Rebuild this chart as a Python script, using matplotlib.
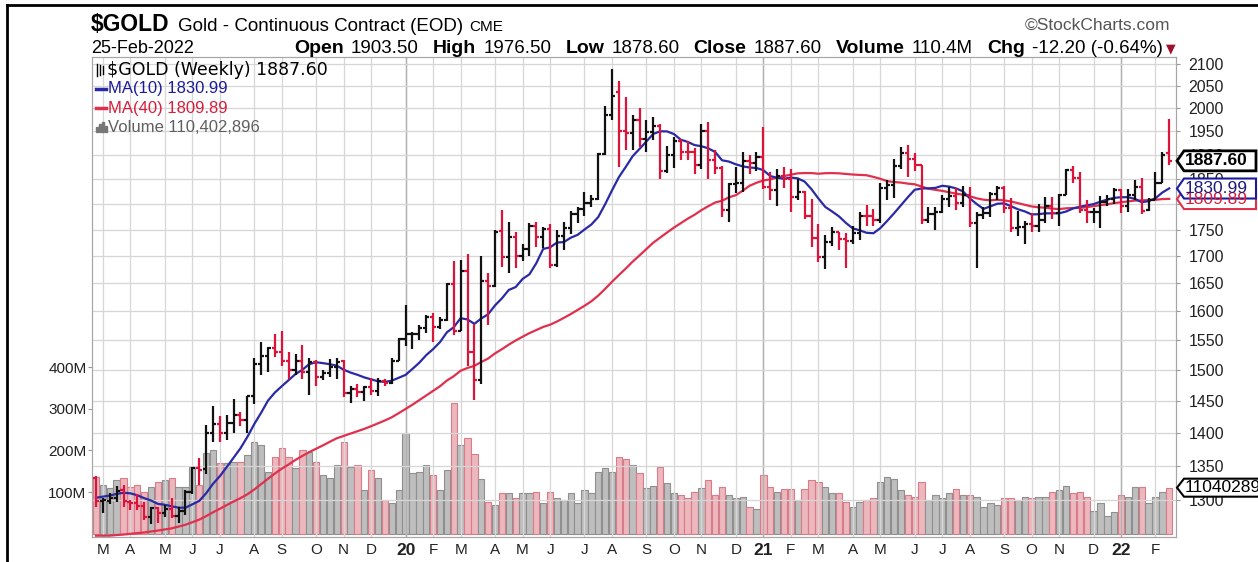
import numpy as np
import pandas as pd
import matplotlib
matplotlib.use("Agg")
import matplotlib.pyplot as plt
import matplotlib.ticker as mticker
from matplotlib.collections import LineCollection
from matplotlib.patches import Polygon, Rectangle
from matplotlib.lines import Line2D

plt.rcParams['font.family'] = ['Liberation Sans', 'DejaVu Sans']

W, H = 1258, 562

# weekly bars (Friday dates)
weeks = pd.date_range("2019-03-01", periods=157, freq="W-FRI")

opens = [1331, 1299, 1299, 1302, 1314, 1297, 1295, 1291, 1276, 1288,
         1281, 1287, 1277, 1284, 1311, 1346, 1345, 1400, 1413, 1400,
         1415, 1427, 1419, 1457, 1509, 1523, 1537, 1529, 1515, 1499,
         1515, 1497, 1513, 1488, 1494, 1505, 1514, 1462, 1468, 1463,
         1472, 1465, 1481, 1478, 1515, 1552, 1560, 1561, 1571, 1590,
         1573, 1584, 1649, 1566, 1672, 1530, 1484, 1654, 1645, 1748,
         1698, 1735, 1700, 1713, 1757, 1735, 1751, 1683, 1737, 1753,
         1781, 1790, 1802, 1810, 1902, 1986, 2035, 1951, 1947, 1975,
         1934, 1948, 1962, 1866, 1900, 1930, 1907, 1905, 1879, 1951,
         1889, 1872, 1788, 1840, 1843, 1888, 1883, 1895, 1835, 1829,
         1856, 1850, 1813, 1824, 1777, 1734, 1698, 1727, 1745, 1733,
         1729, 1744, 1777, 1776, 1768, 1832, 1838, 1876, 1903, 1892,
         1879, 1769, 1781, 1784, 1811, 1816, 1802, 1817, 1763, 1779,
         1782, 1819, 1833, 1792, 1754, 1756, 1760, 1757, 1768, 1796,
         1783, 1818, 1868, 1852, 1788, 1784, 1785, 1805, 1811, 1828,
         1797, 1818, 1835, 1788, 1808, 1842, 1903.5]

highs = [1334, 1302, 1310, 1320, 1322, 1300, 1308, 1297, 1290, 1290,
         1293, 1303, 1290, 1314, 1348, 1362, 1412, 1442, 1425, 1427,
         1453, 1432, 1458, 1519, 1546, 1538, 1560, 1566, 1530, 1527,
         1542, 1519, 1517, 1500, 1518, 1520, 1516, 1474, 1476, 1474,
         1486, 1486, 1485, 1519, 1553, 1611, 1563, 1575, 1594, 1597,
         1590, 1650, 1691, 1692, 1704, 1578, 1700, 1669, 1750, 1788,
         1765, 1745, 1722, 1762, 1765, 1756, 1760, 1750, 1764, 1786,
         1795, 1823, 1817, 1904, 2005, 2089, 2060, 2024, 1986, 2001,
         1975, 1980, 1965, 1918, 1937, 1933, 1930, 1915, 1965, 1969,
         1911, 1876, 1843, 1875, 1906, 1900, 1907, 1960, 1865, 1870,
         1875, 1870, 1850, 1826, 1810, 1760, 1740, 1755, 1745, 1743,
         1758, 1785, 1798, 1790, 1843, 1849, 1891, 1916, 1920, 1903,
         1880, 1795, 1794, 1818, 1834, 1833, 1836, 1834, 1785, 1795,
         1823, 1837, 1836, 1812, 1787, 1767, 1782, 1801, 1814, 1814,
         1820, 1870, 1877, 1865, 1808, 1792, 1815, 1817, 1833, 1830,
         1830, 1848, 1853, 1812, 1865, 1906, 1976.5]

lows = [1290, 1281, 1294, 1297, 1290, 1286, 1285, 1271, 1266, 1267,
        1276, 1275, 1268, 1279, 1309, 1322, 1337, 1385, 1386, 1389,
        1400, 1410, 1400, 1445, 1492, 1497, 1522, 1506, 1485, 1491,
        1485, 1459, 1474, 1483, 1488, 1485, 1456, 1446, 1456, 1450,
        1459, 1458, 1473, 1476, 1515, 1540, 1535, 1550, 1562, 1547,
        1569, 1583, 1558, 1566, 1506, 1451, 1477, 1575, 1643, 1680,
        1669, 1677, 1690, 1700, 1716, 1715, 1677, 1680, 1712, 1741,
        1762, 1777, 1795, 1808, 1900, 1975, 1874, 1911, 1911, 1917,
        1906, 1932, 1851, 1862, 1873, 1890, 1890, 1860, 1871, 1850,
        1860, 1775, 1764, 1822, 1825, 1860, 1866, 1830, 1808, 1797,
        1832, 1785, 1809, 1770, 1717, 1688, 1676, 1718, 1712, 1677,
        1722, 1730, 1758, 1757, 1763, 1808, 1812, 1870, 1855, 1867,
        1761, 1762, 1750, 1783, 1795, 1789, 1795, 1755, 1677, 1770,
        1775, 1808, 1782, 1745, 1738, 1722, 1746, 1745, 1762, 1770,
        1758, 1817, 1843, 1782, 1762, 1762, 1753, 1797, 1800, 1782,
        1785, 1808, 1780, 1787, 1808, 1842, 1878.6]

closes = [1299, 1300, 1302, 1313, 1298, 1295, 1291, 1276, 1288, 1281,
          1287, 1277, 1284, 1311, 1346, 1344, 1400, 1413, 1400, 1415,
          1427, 1419, 1457, 1509, 1523, 1537, 1529, 1515, 1499, 1515,
          1497, 1513, 1488, 1494, 1505, 1513, 1462, 1468, 1463, 1472,
          1465, 1481, 1478, 1515, 1552, 1560, 1561, 1571, 1589, 1573,
          1584, 1648, 1566, 1672, 1530, 1484, 1654, 1645, 1745, 1698,
          1735, 1700, 1713, 1757, 1735, 1751, 1683, 1737, 1753, 1781,
          1790, 1802, 1810, 1902, 1986, 2028, 1951, 1947, 1975, 1934,
          1948, 1962, 1866, 1900, 1930, 1907, 1905, 1879, 1951, 1889,
          1872, 1788, 1840, 1843, 1888, 1883, 1895, 1835, 1829, 1856,
          1850, 1813, 1824, 1777, 1734, 1698, 1727, 1745, 1733, 1729,
          1744, 1777, 1776, 1768, 1832, 1838, 1876, 1903, 1892, 1879,
          1769, 1781, 1784, 1811, 1816, 1802, 1817, 1763, 1779, 1782,
          1819, 1833, 1792, 1754, 1756, 1760, 1757, 1768, 1796, 1783,
          1818, 1868, 1852, 1788, 1784, 1785, 1805, 1811, 1828, 1797,
          1818, 1835, 1786, 1808, 1842, 1900, 1887.6]

# weekly volume, millions of contracts
volume_m = [137, 117, 109, 129, 134, 113, 117, 101, 113, 125,
            130, 134, 113, 113, 161, 117, 193, 201, 169, 169,
            173, 173, 189, 221, 213, 149, 185, 205, 185, 157,
            201, 197, 173, 141, 133, 165, 221, 161, 165, 105,
            153, 133, 81, 73, 105, 243, 145, 149, 165, 141,
            105, 153, 314, 214, 230, 192, 131, 77, 69, 97,
            97, 85, 97, 97, 101, 74, 101, 85, 81, 97,
            74, 105, 97, 149, 157, 149, 184, 180, 165, 145,
            109, 115, 161, 121, 97, 93, 85, 101, 110, 129,
            93, 113, 93, 85, 89, 65, 59, 141, 113, 101,
            107, 107, 81, 107, 129, 125, 113, 97, 97, 77,
            65, 77, 81, 85, 123, 135, 131, 105, 93, 89,
            123, 81, 93, 85, 97, 107, 93, 93, 89, 65,
            73, 69, 85, 85, 81, 89, 85, 89, 89, 99,
            105, 115, 97, 101, 89, 55, 73, 43, 51, 93,
            89, 111, 111, 73, 87, 99, 110.402896]

# closes of the 39 weeks before the first bar (for the moving averages)
prior_closes = [1298, 1302, 1278, 1270, 1254, 1255, 1241, 1231, 1231, 1223,
                1219, 1184, 1213, 1206, 1199, 1201, 1201, 1196, 1207, 1221,
                1229, 1235, 1234, 1210, 1223, 1223, 1226, 1252, 1241, 1258,
                1283, 1287, 1289, 1282, 1303, 1318, 1318, 1322, 1329]

price_ticks = list(range(1300, 2101, 50))
vol_ticks = [100, 200, 300, 400]

BLACK = '#111111'
RED = '#dc143c'
MA10_C = '#2a2aa5'
MA40_C = '#e0304e'
GRID = '#d6d6d6'

def fx(px):
    return px / W

def fy(py):
    return 1 - py / H

n = len(closes)
x = np.arange(n)
prev = [prior_closes[-1]] + closes[:-1]
up = [c >= p for c, p in zip(closes, prev)]

allc = pd.Series(prior_closes + closes, dtype=float)
ma10 = allc.rolling(10).mean().to_numpy()[len(prior_closes):]
ma40 = allc.rolling(40).mean().to_numpy()[len(prior_closes):]

# month ticks: first week whose Monday falls in a new month
mondays = weeks - pd.Timedelta(days=4)
tick_pos, tick_lab, is_year = [], [], []
for i in range(1, n):
    if mondays[i].month != mondays[i - 1].month:
        tick_pos.append(i)
        if mondays[i].month == 1:
            tick_lab.append(f"{mondays[i].year % 100:02d}")
            is_year.append(True)
        else:
            tick_lab.append(mondays[i].strftime("%b")[0])
            is_year.append(False)

fig = plt.figure(figsize=(W / 100, H / 100), dpi=100)
L, R, T, B = 92, 1176, 57, 537
ax = fig.add_axes([L / W, 1 - B / H, (R - L) / W, (B - T) / H])
axp = ax.twinx()

# volume
fills = ['#bebebe' if u else '#ecb7bd' for u in up]
edges = ['#8f8f8f' if u else '#d77c88' for u in up]
ax.bar(x, volume_m, width=0.92, color=fills, edgecolor=edges, linewidth=0.8)
ax.set_xlim(-0.58, 156.98)
ax.set_ylim(-8.4, 1148)
ax.set_yticks(vol_ticks)
ax.set_yticklabels([f"{v}M" for v in vol_ticks])
ax.tick_params(axis='y', labelsize=11, length=3, pad=1, color='#999999', labelcolor='#222222')
ax.set_xticks(tick_pos)
ax.set_xticklabels(tick_lab)
ax.tick_params(axis='x', length=0, pad=4, labelsize=11, labelcolor='#222222')
for lab, yr in zip(ax.get_xticklabels(), is_year):
    if yr:
        lab.set_fontweight('bold')
        lab.set_fontsize(12.5)
ax.grid(True, axis='x', color=GRID, lw=0.9)
for p, yr in zip(tick_pos, is_year):
    if yr:
        ax.axvline(p, color='#b0b0b0', lw=1.0, zorder=1.6)

# price
axp.set_yscale('log')
axp.set_ylim(1248, 2116)
axp.set_yticks(price_ticks)
axp.set_yticklabels([str(p) for p in price_ticks])
axp.yaxis.set_minor_locator(mticker.NullLocator())
axp.tick_params(axis='y', labelsize=11.5, length=3, pad=6, color='#999999', labelcolor='#222222')
axp.grid(True, axis='y', color=GRID, lw=0.9)

axp.plot(x, ma40, color=MA40_C, lw=1.6, zorder=2)
axp.plot(x, ma10, color=MA10_C, lw=1.6, zorder=2)

segs, cols = [], []
for i in range(n):
    c = BLACK if up[i] else RED
    segs += [[(x[i], lows[i]), (x[i], highs[i])],
             [(x[i] - 0.45, opens[i]), (x[i], opens[i])],
             [(x[i], closes[i]), (x[i] + 0.45, closes[i])]]
    cols += [c, c, c]
axp.add_collection(LineCollection(segs, colors=cols, linewidths=1.6, zorder=3))

for a in (ax, axp):
    for s in a.spines.values():
        s.set_color('#a6a6a6')

# legend inside the plot
icon_x = [97, 100, 103]
for k, ix in enumerate(icon_x):
    fig.add_artist(Line2D([fx(ix), fx(ix)], [fy(64 + k), fy(76 - k)], color='black', lw=1))
fig.text(fx(107), fy(70), "$GOLD (Weekly) 1887.60", family='DejaVu Sans', fontsize=12.5,
         color='black', va='center')
fig.add_artist(Line2D([fx(96), fx(106)], [fy(89), fy(89)], color=MA10_C, lw=2.5))
fig.text(fx(108), fy(89), "MA(10) 1830.99", fontsize=12, color='#1c1c9c', va='center')
fig.add_artist(Line2D([fx(96), fx(106)], [fy(108), fy(108)], color=MA40_C, lw=2.5))
fig.text(fx(108), fy(108), "MA(40) 1809.89", fontsize=12, color='#d81e3c', va='center')
for k, (bx, bh) in enumerate([(96, 5), (99, 8), (102, 10), (105, 6)]):
    fig.add_artist(Rectangle((fx(bx), fy(132)), 2 / W, bh / H, color='#777777'))
fig.text(fx(108), fy(127), "Volume 110,402,896", fontsize=12, color='#606060', va='center')

# header
renderer = fig.canvas.get_renderer()

def row(x0, y, parts):
    xx = x0
    for text, size, weight, color, gap in parts:
        t = fig.text(fx(xx), fy(y), text, fontsize=size, weight=weight, color=color, va='baseline')
        xx += t.get_window_extent(renderer).width + gap
    return xx

row(91, 31, [("$GOLD", 16.5, 'bold', 'black', 8),
             ("Gold - Continuous Contract (EOD)", 13.5, 'normal', 'black', 7),
             ("CME", 11, 'normal', 'black', 0)])
fig.text(fx(1170), fy(30), "\u00a9StockCharts.com", fontsize=12.5, color='#555555',
         ha='right', va='baseline')
fig.text(fx(91), fy(53), "25-Feb-2022", fontsize=13, color='black', va='baseline')

parts = [("Open", True), ("1903.50", False), ("High", True), ("1976.50", False),
         ("Low", True), ("1878.60", False), ("Close", True), ("1887.60", False),
         ("Volume", True), ("110.4M", False), ("Chg", True), ("-12.20 (-0.64%)", False)]
texts, widths = [], []
for s, b in parts:
    t = fig.text(0, fy(53), s, fontsize=14 if b else 13.5, weight='bold' if b else 'normal',
                 color='black', va='baseline')
    texts.append(t)
    widths.append(t.get_window_extent(renderer).width)
x_start, x_end = 294, 1163
free = (x_end - x_start) - sum(widths)
unit = free / (6 * 1 + 5 * 2)
xx = x_start
for k, t in enumerate(texts):
    t.set_x(fx(xx))
    xx += widths[k] + (unit if k % 2 == 0 else 2 * unit)
fig.text(fx(1166), fy(52), "\u25bc", family='DejaVu Sans', fontsize=9, color='#a0102a', va='baseline')

# value tags on the right axis
def tag(ypix, text, ec, tc, bold=False, h=20, right=1256, lw=1.5):
    pts = [(R + 1, ypix), (R + 8, ypix - h / 2), (right, ypix - h / 2),
           (right, ypix + h / 2), (R + 8, ypix + h / 2)]
    fig.add_artist(Polygon([(fx(a), fy(b)) for a, b in pts], closed=True,
                           transform=fig.transFigure, fc='white', ec=ec, lw=lw))
    fig.text(fx(R + 9), fy(ypix), text, fontsize=12.5, weight='bold' if bold else 'normal',
             color=tc, va='center', ha='left', zorder=5)

def price_px(p):
    return H - axp.transData.transform((0, p))[1]

def vol_px(v):
    return H - ax.transData.transform((0, v))[1]

tag(price_px(1809.89), "1809.89", MA40_C, '#d81e3c')
tag(price_px(1830.99), "1830.99", '#1a1aa0', '#1c1c7c')
tag(price_px(1887.60), "1887.60", 'black', 'black', bold=True, lw=2)
tag(vol_px(110.402896), "110402896", 'black', 'black', h=18, right=1300)

# outer frame
fig.add_artist(Line2D([fx(7), fx(7)], [fy(5), fy(H)], color='black', lw=2))
fig.add_artist(Line2D([fx(7), fx(W)], [fy(5), fy(5)], color='black', lw=2))

fig.savefig("out.png", dpi=100)
